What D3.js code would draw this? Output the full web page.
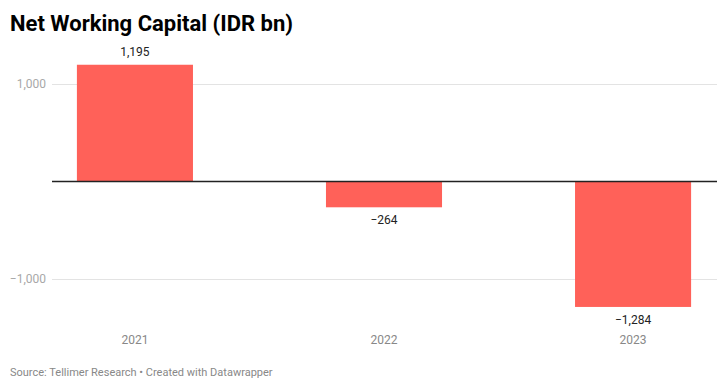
<!DOCTYPE html>
<html><head><meta charset="utf-8">
<script src="https://cdn.jsdelivr.net/npm/d3@7"></script>
<style>body{margin:0;background:#fff;font-family:Roboto,sans-serif;}</style>
</head><body><svg id="c" width="727" height="390"></svg>
<script>
const categories = ["2021", "2022", "2023"];
const values = [1195, -264, -1284];
const valueLabels = ["1,195", "−264", "−1,284"];
const tickValues = [-1000, 1000];
const tickLabels = ["−1,000", "1,000"];

const svg = d3.select("#c");
const x = d3.scaleBand().domain(categories).range([51, 717]).paddingInner(0.534).paddingOuter(0.104);
const y = d3.scaleLinear().domain([-1400, 1300]).range([181.5 + 1400*0.0977, 181.5 - 1300*0.0977]);

svg.append("text").attr("x", 10).attr("y", 31).attr("font-size", 22).attr("font-weight", 700)
  .attr("fill", "#000").text("Net Working Capital (IDR bn)");

// gridlines
const g = svg.append("g");
tickValues.forEach((t, i) => {
  g.append("line").attr("x1", 52).attr("x2", 717).attr("y1", Math.round(y(t)) + 0.5).attr("y2", Math.round(y(t)) + 0.5)
    .attr("stroke", "#e3e3e3").attr("stroke-width", 1);
  g.append("text").attr("x", 46).attr("y", y(t)).attr("dy", "0.35em").attr("text-anchor", "end")
    .attr("font-size", 12).attr("fill", "#a8a8a8").text(tickLabels[i]);
});

// bars
svg.append("g").selectAll("rect").data(values).join("rect")
  .attr("x", (d, i) => x(categories[i]))
  .attr("width", x.bandwidth())
  .attr("y", d => y(Math.max(0, d)))
  .attr("height", d => Math.abs(y(d) - y(0)))
  .attr("fill", "#ff6159");

// zero line
svg.append("line").attr("x1", 52).attr("x2", 717).attr("y1", y(0)).attr("y2", y(0))
  .attr("stroke", "#222").attr("stroke-width", 1.3);

// value labels
svg.append("g").selectAll("text").data(values).join("text")
  .attr("x", (d, i) => x(categories[i]) + x.bandwidth() / 2)
  .attr("y", d => d >= 0 ? y(d) - 13 : y(d) + 13)
  .attr("dy", "0.35em").attr("text-anchor", "middle").attr("font-size", 12).attr("fill", "#222")
  .text((d, i) => valueLabels[i]);

// category labels
svg.append("g").selectAll("text").data(categories).join("text")
  .attr("x", d => x(d) + x.bandwidth() / 2).attr("y", 340).attr("dy", "0.35em")
  .attr("text-anchor", "middle").attr("font-size", 12).attr("fill", "#888").text(d => d);

svg.append("text").attr("x", 10).attr("y", 372).attr("dy", "0.35em").attr("font-size", 11)
  .attr("fill", "#888").text("Source: Tellimer Research • Created with Datawrapper");
</script></body></html>
